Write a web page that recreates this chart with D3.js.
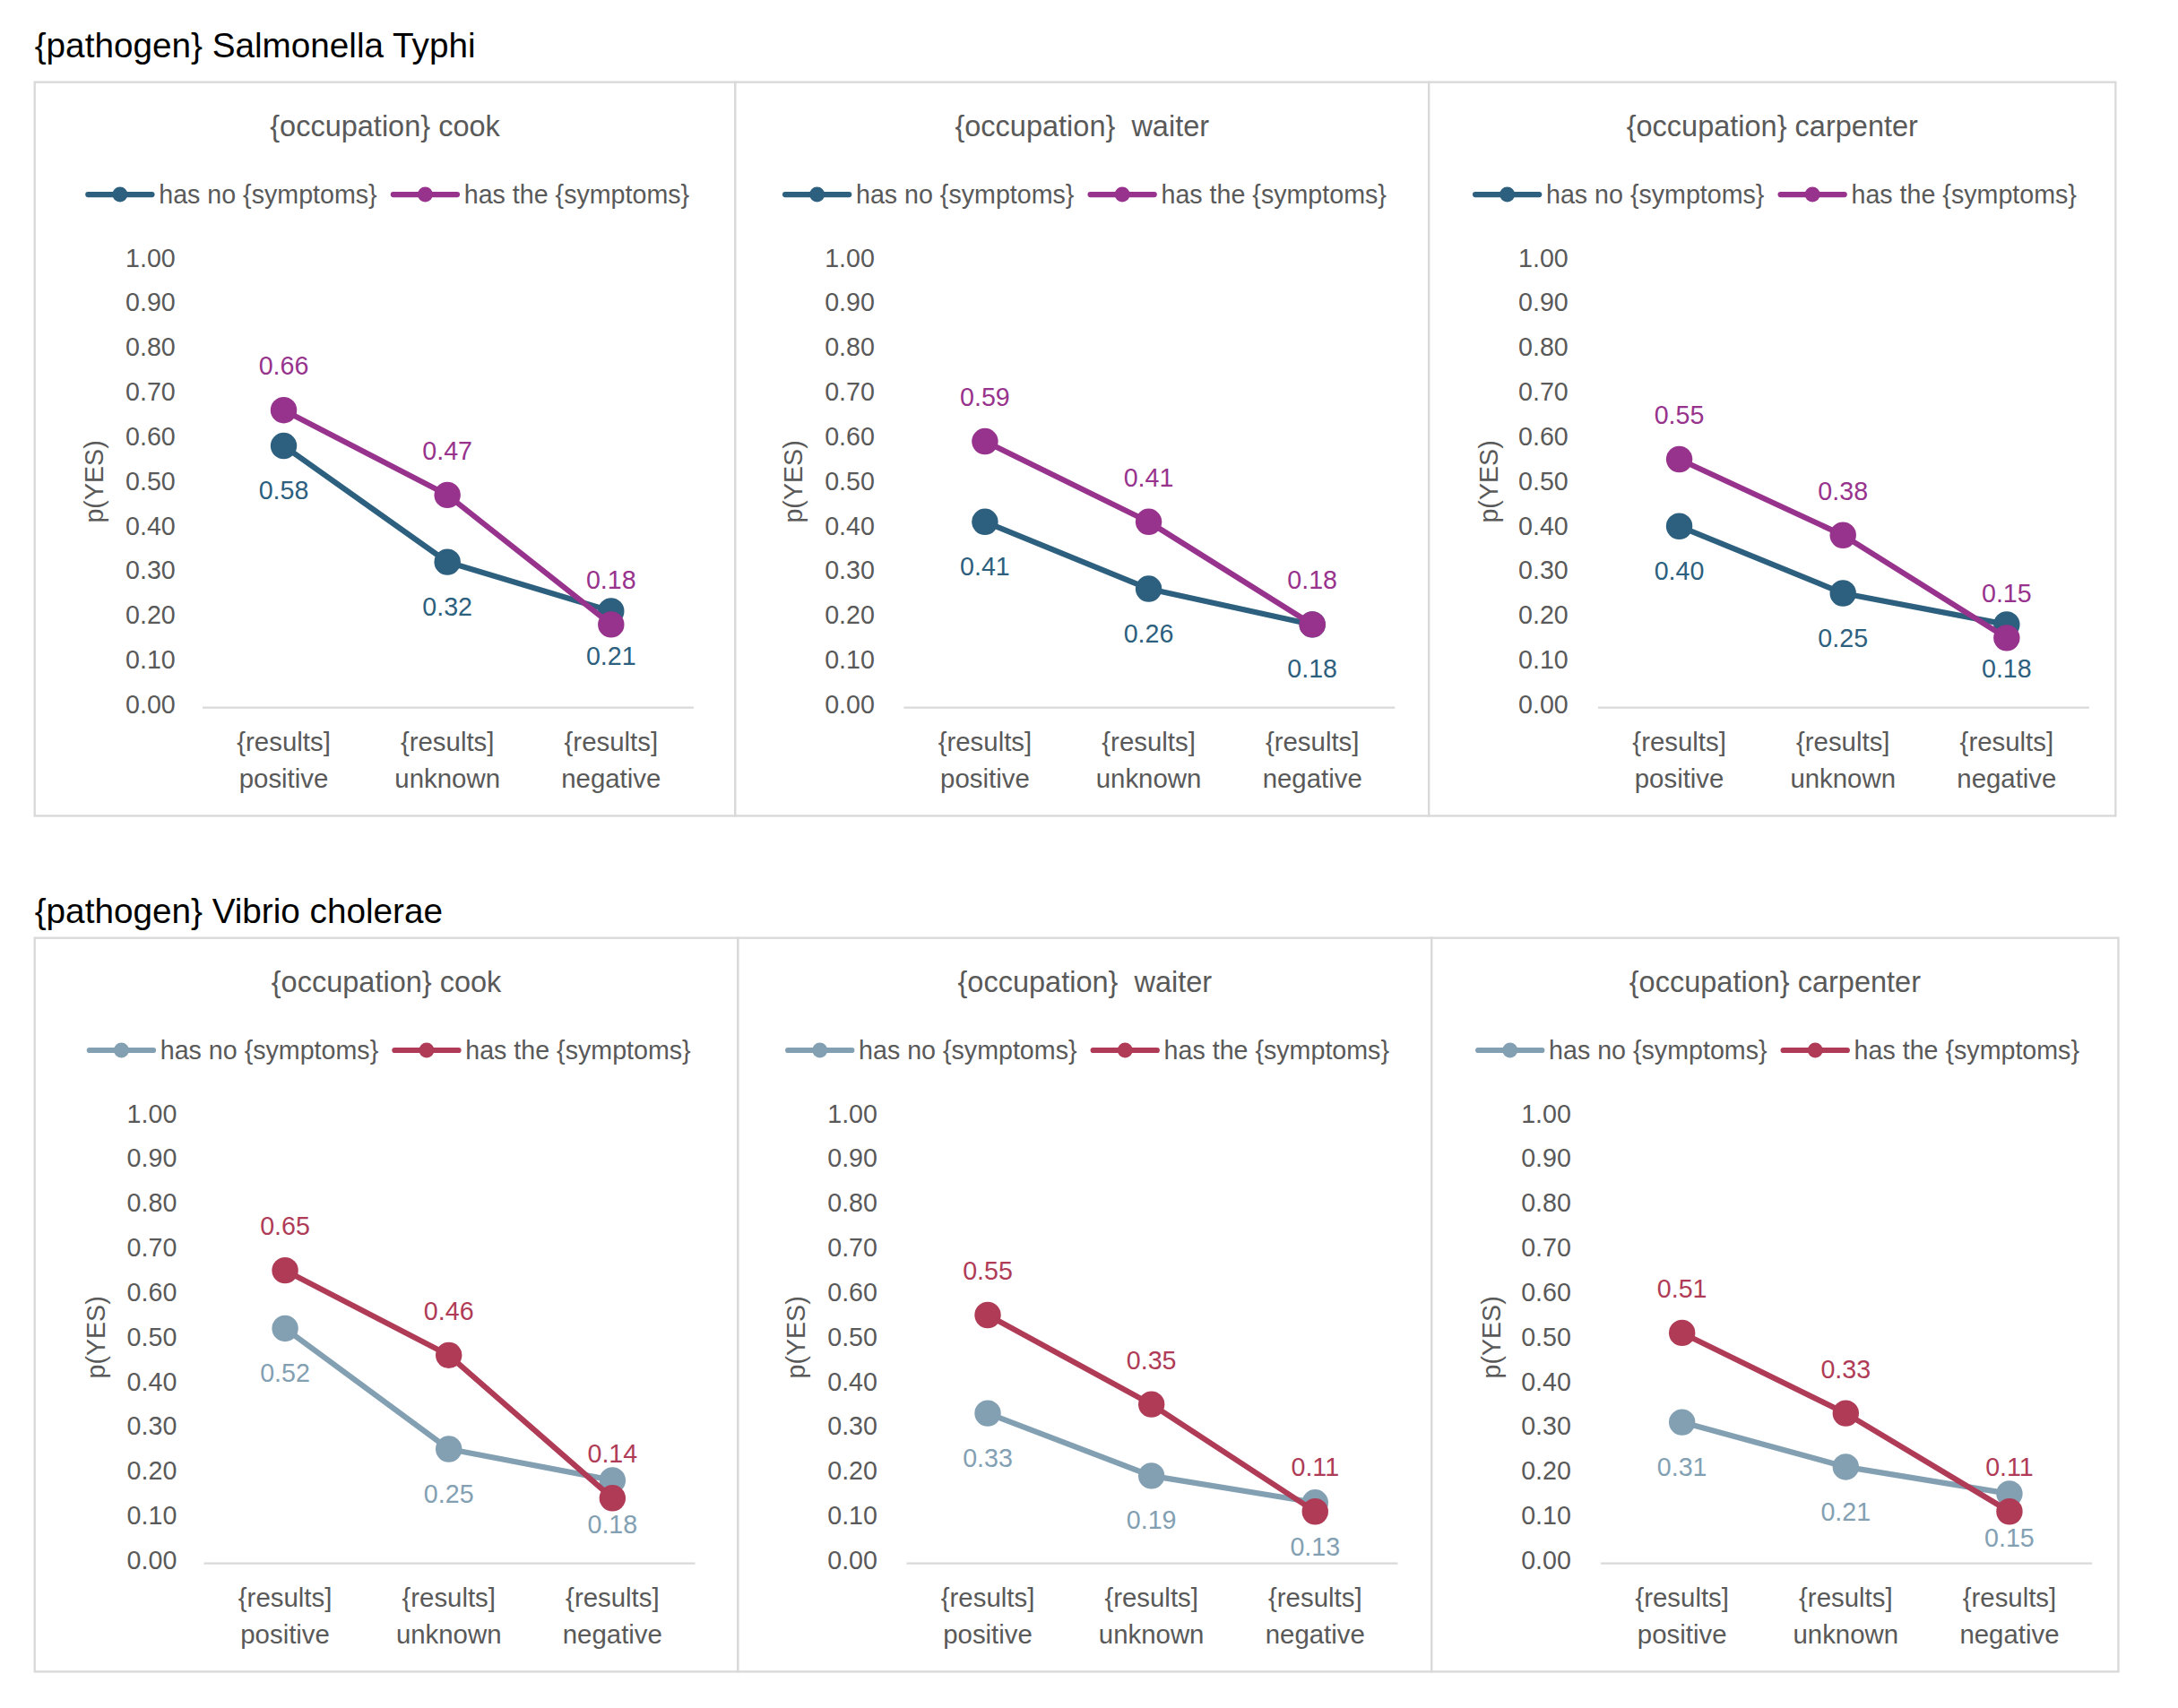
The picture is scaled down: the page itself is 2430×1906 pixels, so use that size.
<!DOCTYPE html>
<html>
<head>
<meta charset="utf-8">
<script src="https://cdn.jsdelivr.net/npm/d3@7"></script>
<style>
  html, body { margin: 0; padding: 0; background: #fff; }
  svg { display: block; font-family: "Liberation Sans", Arial, sans-serif; }
  svg text { white-space: pre; }
  .axis .domain { stroke: #d9d9d9; stroke-width: 1.5; }
  .axis text { fill: #595959; }
</style>
</head>
<body>
<div id="chart"></div>
<script>
// values
var pathogens = ["Salmonella Typhi", "Vibrio cholerae"];
var occupations = ["cook", " waiter", "carpenter"];
var results = ["positive", "unknown", "negative"];
var seriesNames = ["has no {symptoms}", "has the {symptoms}"];
var yTicks = [0, 0.1, 0.2, 0.3, 0.4, 0.5, 0.6, 0.7, 0.8, 0.9, 1.0];

// one row per occupation (cook, waiter, carpenter), one value per result
var typhiNoSymptoms  = [[0.58, 0.32, 0.21], [0.41, 0.26, 0.18], [0.40, 0.25, 0.18]];
var typhiSymptoms    = [[0.66, 0.47, 0.18], [0.59, 0.41, 0.18], [0.55, 0.38, 0.15]];
var choleraNoSymptoms = [[0.52, 0.25, 0.18], [0.33, 0.19, 0.13], [0.31, 0.21, 0.15]];
var choleraSymptoms   = [[0.65, 0.46, 0.14], [0.55, 0.35, 0.11], [0.51, 0.33, 0.11]];

var typhiColors = ["#2d5f7e", "#97338c"];
var choleraColors = ["#83a0b3", "#af3b56"];

// drawing is done in a 1570 x 1231 space, scaled up to the window
var W = 1570, H = 1231;
var svg = d3.select("#chart").append("svg")
    .attr("width", 2430)
    .attr("height", 1906)
    .attr("viewBox", "0 0 " + W + " " + H);

var rows = [
  { name: pathogens[0], top: 59, titleY: 41, edges: [25, 530, 1030, 1525], data: [typhiNoSymptoms, typhiSymptoms], colors: typhiColors },
  { name: pathogens[1], top: 676, titleY: 665, edges: [25, 532, 1032, 1527], data: [choleraNoSymptoms, choleraSymptoms], colors: choleraColors }
];

// small per-column shifts of the plot area (Excel lays each chart out a bit differently)
var plotOffset = [-132, -129, -126];
var tickOffset = [-151, -149.5, -147];
var yTitleOffset = [-209.5, -208, -204.5];

rows.forEach(function(row) {
  svg.append("text")
      .attr("x", 25)
      .attr("y", row.titleY)
      .attr("font-size", 25)
      .attr("fill", "#000")
      .text("{pathogen} " + row.name);

  occupations.forEach(function(occ, k) {
    var left = row.edges[k], right = row.edges[k + 1];
    var cx = (left + right) / 2;
    var g = svg.append("g");

    g.append("rect")
        .attr("x", left)
        .attr("y", row.top)
        .attr("width", right - left)
        .attr("height", 529)
        .attr("fill", "#fff")
        .attr("stroke", "#d9d9d9")
        .attr("stroke-width", 1.5);

    // subtitle
    g.append("text")
        .attr("x", cx)
        .attr("y", row.top + 39)
        .attr("text-anchor", "middle")
        .attr("font-size", 21)
        .attr("fill", "#595959")
        .text("{occupation} " + occ);

    // legend
    var ly = row.top + 81;
    var legendPos = [[-214, -163], [6, 57]];
    seriesNames.forEach(function(name, s) {
      var x0 = cx + legendPos[s][0];
      g.append("line")
          .attr("x1", x0).attr("x2", x0 + 46)
          .attr("y1", ly).attr("y2", ly)
          .attr("stroke", row.colors[s])
          .attr("stroke-width", 4)
          .attr("stroke-linecap", "round");
      g.append("circle")
          .attr("cx", x0 + 23).attr("cy", ly).attr("r", 5.5)
          .attr("fill", row.colors[s]);
      g.append("text")
          .attr("x", cx + legendPos[s][1])
          .attr("y", ly + 6.5)
          .attr("font-size", 18.5)
          .attr("fill", "#595959")
          .text(name);
    });

    // scales
    var plotLeft = cx + plotOffset[k], plotWidth = 354;
    var x = d3.scaleBand().domain(results).range([plotLeft, plotLeft + plotWidth]);
    var y = d3.scaleLinear().domain([0, 1]).range([row.top + 449, row.top + 127]);

    // y axis labels only
    var yAxis = g.append("g")
        .attr("class", "axis")
        .attr("transform", "translate(" + (cx + tickOffset[k]) + ",0)")
        .call(d3.axisLeft(y).tickValues(yTicks).tickSize(0).tickPadding(0).tickFormat(d3.format(".2f")));
    yAxis.select(".domain").remove();
    yAxis.selectAll("text")
        .attr("font-size", 18.5)
        .attr("font-family", null)
        .attr("dy", "0.3em");

    g.append("text")
        .attr("transform", "translate(" + (cx + yTitleOffset[k]) + "," + ((y(0) + y(1)) / 2) + ") rotate(-90)")
        .attr("text-anchor", "middle")
        .attr("dy", "0.35em")
        .attr("font-size", 18.5)
        .attr("fill", "#595959")
        .text("p(YES)");

    // x axis
    var xAxis = g.append("g")
        .attr("class", "axis")
        .attr("transform", "translate(0," + (y(0) + 1.5) + ")")
        .call(d3.axisBottom(x).tickSize(0).tickPadding(0).tickSizeOuter(0).tickFormat(function() { return ""; }));
    xAxis.selectAll(".tick text").each(function(d) {
      var t = d3.select(this)
          .attr("font-size", 19)
          .attr("font-family", null)
          .attr("dy", null)
          .attr("y", 0);
      t.append("tspan").attr("x", 0).attr("y", 32).text("{results]");
      t.append("tspan").attr("x", 0).attr("y", 58).text(d);
    });

    // series
    var line = d3.line()
        .x(function(d, i) { return x(results[i]) + x.bandwidth() / 2; })
        .y(function(d) { return y(d); });

    row.data.forEach(function(series, s) {
      var vals = series[k];
      var col = row.colors[s];
      g.append("path")
          .datum(vals)
          .attr("d", line)
          .attr("fill", "none")
          .attr("stroke", col)
          .attr("stroke-width", 4);
      g.selectAll(".pt" + s)
          .data(vals)
          .enter().append("circle")
          .attr("class", "pt" + s)
          .attr("cx", function(d, i) { return x(results[i]) + x.bandwidth() / 2; })
          .attr("cy", function(d) { return y(d); })
          .attr("r", 9.5)
          .attr("fill", col);
    });

    // data labels: no symptoms below, symptoms above
    row.data.forEach(function(series, s) {
      var vals = series[k];
      g.selectAll(".lb" + s)
          .data(vals)
          .enter().append("text")
          .attr("class", "lb" + s)
          .attr("x", function(d, i) { return x(results[i]) + x.bandwidth() / 2; })
          .attr("y", function(d) { return y(d) + (s === 0 ? 32 : -32) + 6.5; })
          .attr("text-anchor", "middle")
          .attr("font-size", 18.5)
          .attr("fill", row.colors[s])
          .text(function(d) { return d.toFixed(2); });
    });
  });
});
</script>
</body>
</html>
